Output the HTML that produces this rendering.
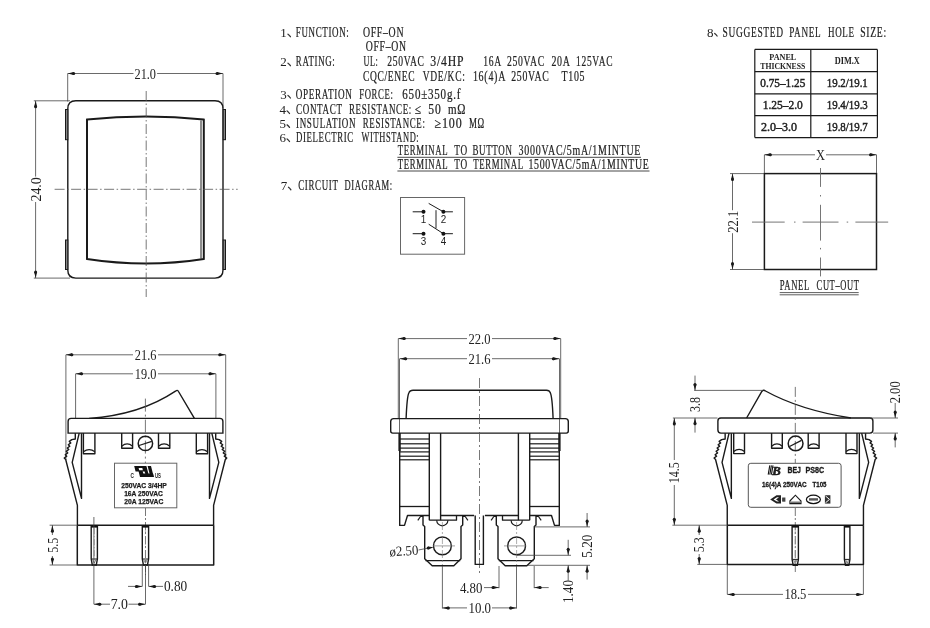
<!DOCTYPE html><html><head><meta charset="utf-8"><style>html,body{margin:0;padding:0;background:#fff;}svg{display:block;will-change:transform}</style></head><body>
<svg width="930" height="628" viewBox="0 0 930 628">
<rect width="930" height="628" fill="#fff"/>
<line x1="67.70" y1="73.50" x2="67.70" y2="101.50" stroke="#444" stroke-width="0.8" />
<line x1="223.00" y1="73.50" x2="223.00" y2="108.00" stroke="#444" stroke-width="0.8" />
<line x1="67.70" y1="73.50" x2="133.50" y2="73.50" stroke="#444" stroke-width="0.8" />
<line x1="157.10" y1="73.50" x2="223.00" y2="73.50" stroke="#444" stroke-width="0.8" />
<polygon points="67.70,73.50 73.70,72.00 73.70,75.00" fill="#1a1a1a"/>
<circle cx="73.70" cy="73.50" r="1.50" fill="#1a1a1a"/>
<polygon points="223.00,73.50 217.00,75.00 217.00,72.00" fill="#1a1a1a"/>
<circle cx="217.00" cy="73.50" r="1.50" fill="#1a1a1a"/>
<text x="134.50" y="78.70" font-family="Liberation Serif" font-size="14.5" font-weight="normal" fill="#222" text-anchor="start" textLength="21.50" lengthAdjust="spacingAndGlyphs" >21.0</text>
<line x1="33.80" y1="100.80" x2="70.00" y2="100.80" stroke="#444" stroke-width="0.8" />
<line x1="33.80" y1="278.10" x2="70.00" y2="278.10" stroke="#444" stroke-width="0.8" />
<line x1="35.60" y1="100.80" x2="35.60" y2="176.60" stroke="#444" stroke-width="0.8" />
<line x1="35.60" y1="202.00" x2="35.60" y2="278.10" stroke="#444" stroke-width="0.8" />
<polygon points="35.60,100.80 37.10,106.80 34.10,106.80" fill="#1a1a1a"/>
<circle cx="35.60" cy="106.80" r="1.50" fill="#1a1a1a"/>
<polygon points="35.60,278.10 34.10,272.10 37.10,272.10" fill="#1a1a1a"/>
<circle cx="35.60" cy="272.10" r="1.50" fill="#1a1a1a"/>
<text x="40.60" y="201.50" font-family="Liberation Serif" font-size="14.5" font-weight="normal" fill="#222" text-anchor="start" textLength="24.20" lengthAdjust="spacingAndGlyphs" transform="rotate(-90 40.60 201.50)" >24.0</text>
<path d="M67.8,108.8 Q67.8,100.8 75.8,100.8 L215,100.8 Q223,100.8 223,108.8 L223,270.1 Q223,278.1 215,278.1 L75.8,278.1 Q67.8,278.1 67.8,270.1 Z" fill="none" stroke="#1a1a1a" stroke-width="1.4" />
<rect x="65.50" y="109.50" width="2.30" height="30.20" rx="0" fill="#888" stroke="#1a1a1a" stroke-width="1.0"/>
<rect x="223.20" y="109.50" width="2.30" height="30.20" rx="0" fill="#888" stroke="#1a1a1a" stroke-width="1.0"/>
<rect x="65.50" y="240.00" width="2.30" height="29.50" rx="0" fill="#888" stroke="#1a1a1a" stroke-width="1.0"/>
<rect x="223.20" y="240.00" width="2.30" height="29.50" rx="0" fill="#888" stroke="#1a1a1a" stroke-width="1.0"/>
<path d="M87.0,119.6 Q146,113.4 203.8,119.6 L203.8,259 Q146,268 87.0,259 Z" fill="none" stroke="#1a1a1a" stroke-width="2.0" />
<line x1="201.00" y1="120.50" x2="201.00" y2="258.50" stroke="#1a1a1a" stroke-width="1.0" />
<line x1="146.20" y1="91.00" x2="146.20" y2="297.00" stroke="#555" stroke-width="0.8" stroke-dasharray="10 2.5 1.5 2.5"/>
<line x1="54.60" y1="189.30" x2="237.70" y2="189.30" stroke="#555" stroke-width="0.8" stroke-dasharray="10 2.5 1.5 2.5"/>
<text x="280.30" y="37.20" font-family="Liberation Serif" font-size="13" fill="#222">1</text>
<path d="M288.00,34.20 Q289.40,35.20 290.40,36.70" fill="none" stroke="#333" stroke-width="1.3" stroke-linecap="round"/>
<text x="295.80" y="37.20" font-family="Liberation Serif" font-size="13.8" letter-spacing="1.0" word-spacing="2.5" textLength="53.60" lengthAdjust="spacingAndGlyphs" fill="#222" stroke="#222" stroke-width="0.22">FUNCTION:</text>
<text x="362.90" y="37.20" font-family="Liberation Serif" font-size="13.8" letter-spacing="1.0" word-spacing="2.5" textLength="41.30" lengthAdjust="spacingAndGlyphs" fill="#222" stroke="#222" stroke-width="0.22">OFF–ON</text>
<text x="365.70" y="50.50" font-family="Liberation Serif" font-size="13.8" letter-spacing="1.0" word-spacing="2.5" textLength="41.10" lengthAdjust="spacingAndGlyphs" fill="#222" stroke="#222" stroke-width="0.22">OFF–ON</text>
<text x="280.30" y="66.20" font-family="Liberation Serif" font-size="13" fill="#222">2</text>
<path d="M288.00,63.20 Q289.40,64.20 290.40,65.70" fill="none" stroke="#333" stroke-width="1.3" stroke-linecap="round"/>
<text x="295.80" y="66.20" font-family="Liberation Serif" font-size="13.8" letter-spacing="1.0" word-spacing="2.5" textLength="39.60" lengthAdjust="spacingAndGlyphs" fill="#222" stroke="#222" stroke-width="0.22">RATING:</text>
<text x="363.50" y="66.20" font-family="Liberation Serif" font-size="13.8" letter-spacing="1.0" word-spacing="2.5" textLength="15.00" lengthAdjust="spacingAndGlyphs" fill="#222" stroke="#222" stroke-width="0.22">UL:</text>
<text x="387.20" y="66.20" font-family="Liberation Serif" font-size="13.8" letter-spacing="1.0" word-spacing="2.5" textLength="37.50" lengthAdjust="spacingAndGlyphs" fill="#222" stroke="#222" stroke-width="0.22">250VAC</text>
<text x="430.20" y="66.20" font-family="Liberation Serif" font-size="13.8" letter-spacing="1.0" word-spacing="2.5" textLength="34.20" lengthAdjust="spacingAndGlyphs" fill="#222" stroke="#222" stroke-width="0.22">3/4HP</text>
<text x="483.20" y="66.20" font-family="Liberation Serif" font-size="13.8" letter-spacing="1.0" word-spacing="2.5" textLength="18.60" lengthAdjust="spacingAndGlyphs" fill="#222" stroke="#222" stroke-width="0.22">16A</text>
<text x="506.90" y="66.20" font-family="Liberation Serif" font-size="13.8" letter-spacing="1.0" word-spacing="2.5" textLength="37.90" lengthAdjust="spacingAndGlyphs" fill="#222" stroke="#222" stroke-width="0.22">250VAC</text>
<text x="551.40" y="66.20" font-family="Liberation Serif" font-size="13.8" letter-spacing="1.0" word-spacing="2.5" textLength="19.20" lengthAdjust="spacingAndGlyphs" fill="#222" stroke="#222" stroke-width="0.22">20A</text>
<text x="576.10" y="66.20" font-family="Liberation Serif" font-size="13.8" letter-spacing="1.0" word-spacing="2.5" textLength="37.10" lengthAdjust="spacingAndGlyphs" fill="#222" stroke="#222" stroke-width="0.22">125VAC</text>
<text x="362.90" y="81.30" font-family="Liberation Serif" font-size="13.8" letter-spacing="1.0" word-spacing="2.5" textLength="52.50" lengthAdjust="spacingAndGlyphs" fill="#222" stroke="#222" stroke-width="0.22">CQC/ENEC</text>
<text x="422.70" y="81.30" font-family="Liberation Serif" font-size="13.8" letter-spacing="1.0" word-spacing="2.5" textLength="42.80" lengthAdjust="spacingAndGlyphs" fill="#222" stroke="#222" stroke-width="0.22">VDE/KC:</text>
<text x="472.90" y="81.30" font-family="Liberation Serif" font-size="13.8" letter-spacing="1.0" word-spacing="2.5" textLength="33.20" lengthAdjust="spacingAndGlyphs" fill="#222" stroke="#222" stroke-width="0.22">16(4)A</text>
<text x="511.20" y="81.30" font-family="Liberation Serif" font-size="13.8" letter-spacing="1.0" word-spacing="2.5" textLength="38.30" lengthAdjust="spacingAndGlyphs" fill="#222" stroke="#222" stroke-width="0.22">250VAC</text>
<text x="561.50" y="81.30" font-family="Liberation Serif" font-size="13.8" letter-spacing="1.0" word-spacing="2.5" textLength="23.70" lengthAdjust="spacingAndGlyphs" fill="#222" stroke="#222" stroke-width="0.22">T105</text>
<text x="280.30" y="98.50" font-family="Liberation Serif" font-size="13" fill="#222">3</text>
<path d="M288.00,95.50 Q289.40,96.50 290.40,98.00" fill="none" stroke="#333" stroke-width="1.3" stroke-linecap="round"/>
<text x="295.80" y="98.50" font-family="Liberation Serif" font-size="13.8" letter-spacing="1.0" word-spacing="2.5" textLength="56.80" lengthAdjust="spacingAndGlyphs" fill="#222" stroke="#222" stroke-width="0.22">OPERATION</text>
<text x="359.20" y="98.50" font-family="Liberation Serif" font-size="13.8" letter-spacing="1.0" word-spacing="2.5" textLength="34.30" lengthAdjust="spacingAndGlyphs" fill="#222" stroke="#222" stroke-width="0.22">FORCE:</text>
<text x="402.30" y="98.50" font-family="Liberation Serif" font-size="13.8" letter-spacing="1.0" word-spacing="2.5" textLength="58.90" lengthAdjust="spacingAndGlyphs" fill="#222" stroke="#222" stroke-width="0.22">650±350g.f</text>
<text x="279.40" y="114.00" font-family="Liberation Serif" font-size="13" fill="#222">4</text>
<path d="M287.10,111.00 Q288.50,112.00 289.50,113.50" fill="none" stroke="#333" stroke-width="1.3" stroke-linecap="round"/>
<text x="296.00" y="114.00" font-family="Liberation Serif" font-size="13.8" letter-spacing="1.0" word-spacing="2.5" textLength="46.60" lengthAdjust="spacingAndGlyphs" fill="#222" stroke="#222" stroke-width="0.22">CONTACT</text>
<text x="349.00" y="114.00" font-family="Liberation Serif" font-size="13.8" letter-spacing="1.0" word-spacing="2.5" textLength="62.90" lengthAdjust="spacingAndGlyphs" fill="#222" stroke="#222" stroke-width="0.22">RESISTANCE:</text>
<text x="414.70" y="114.00" font-family="Liberation Serif" font-size="13.8" letter-spacing="1.0" word-spacing="2.5" textLength="7.10" lengthAdjust="spacingAndGlyphs" fill="#222" stroke="#222" stroke-width="0.22">≤</text>
<text x="428.30" y="114.00" font-family="Liberation Serif" font-size="13.8" letter-spacing="1.0" word-spacing="2.5" textLength="13.30" lengthAdjust="spacingAndGlyphs" fill="#222" stroke="#222" stroke-width="0.22">50</text>
<text x="448.00" y="114.00" font-family="Liberation Serif" font-size="13.8" letter-spacing="1.0" word-spacing="2.5" textLength="18.30" lengthAdjust="spacingAndGlyphs" fill="#222" stroke="#222" stroke-width="0.22">mΩ</text>
<text x="279.40" y="127.90" font-family="Liberation Serif" font-size="13" fill="#222">5</text>
<path d="M287.10,124.90 Q288.50,125.90 289.50,127.40" fill="none" stroke="#333" stroke-width="1.3" stroke-linecap="round"/>
<text x="296.00" y="127.90" font-family="Liberation Serif" font-size="13.8" letter-spacing="1.0" word-spacing="2.5" textLength="60.20" lengthAdjust="spacingAndGlyphs" fill="#222" stroke="#222" stroke-width="0.22">INSULATION</text>
<text x="362.80" y="127.90" font-family="Liberation Serif" font-size="13.8" letter-spacing="1.0" word-spacing="2.5" textLength="62.70" lengthAdjust="spacingAndGlyphs" fill="#222" stroke="#222" stroke-width="0.22">RESISTANCE:</text>
<text x="434.50" y="127.90" font-family="Liberation Serif" font-size="13.8" letter-spacing="1.0" word-spacing="2.5" textLength="28.10" lengthAdjust="spacingAndGlyphs" fill="#222" stroke="#222" stroke-width="0.22">≥100</text>
<text x="469.00" y="127.90" font-family="Liberation Serif" font-size="13.8" letter-spacing="1.0" word-spacing="2.5" textLength="15.90" lengthAdjust="spacingAndGlyphs" fill="#222" stroke="#222" stroke-width="0.22">MΩ</text>
<text x="279.40" y="142.00" font-family="Liberation Serif" font-size="13" fill="#222">6</text>
<path d="M287.10,139.00 Q288.50,140.00 289.50,141.50" fill="none" stroke="#333" stroke-width="1.3" stroke-linecap="round"/>
<text x="296.00" y="142.00" font-family="Liberation Serif" font-size="13.8" letter-spacing="1.0" word-spacing="2.5" textLength="57.80" lengthAdjust="spacingAndGlyphs" fill="#222" stroke="#222" stroke-width="0.22">DIELECTRIC</text>
<text x="361.50" y="142.00" font-family="Liberation Serif" font-size="13.8" letter-spacing="1.0" word-spacing="2.5" textLength="57.80" lengthAdjust="spacingAndGlyphs" fill="#222" stroke="#222" stroke-width="0.22">WITHSTAND:</text>
<text x="397.80" y="155.10" font-family="Liberation Serif" font-size="13.8" letter-spacing="1.0" word-spacing="2.5" textLength="50.40" lengthAdjust="spacingAndGlyphs" fill="#222" stroke="#222" stroke-width="0.22">TERMINAL</text>
<text x="454.30" y="155.10" font-family="Liberation Serif" font-size="13.8" letter-spacing="1.0" word-spacing="2.5" textLength="13.50" lengthAdjust="spacingAndGlyphs" fill="#222" stroke="#222" stroke-width="0.22">TO</text>
<text x="472.50" y="155.10" font-family="Liberation Serif" font-size="13.8" letter-spacing="1.0" word-spacing="2.5" textLength="40.00" lengthAdjust="spacingAndGlyphs" fill="#222" stroke="#222" stroke-width="0.22">BUTTON</text>
<text x="518.60" y="155.10" font-family="Liberation Serif" font-size="13.8" letter-spacing="1.0" word-spacing="2.5" textLength="122.50" lengthAdjust="spacingAndGlyphs" fill="#222" stroke="#222" stroke-width="0.22">3000VAC/5mA/1MINTUE</text>
<line x1="397.40" y1="157.30" x2="641.00" y2="157.30" stroke="#333" stroke-width="0.9" />
<text x="397.80" y="168.70" font-family="Liberation Serif" font-size="13.8" letter-spacing="1.0" word-spacing="2.5" textLength="50.40" lengthAdjust="spacingAndGlyphs" fill="#222" stroke="#222" stroke-width="0.22">TERMINAL</text>
<text x="454.30" y="168.70" font-family="Liberation Serif" font-size="13.8" letter-spacing="1.0" word-spacing="2.5" textLength="13.50" lengthAdjust="spacingAndGlyphs" fill="#222" stroke="#222" stroke-width="0.22">TO</text>
<text x="473.30" y="168.70" font-family="Liberation Serif" font-size="13.8" letter-spacing="1.0" word-spacing="2.5" textLength="50.40" lengthAdjust="spacingAndGlyphs" fill="#222" stroke="#222" stroke-width="0.22">TERMINAL</text>
<text x="528.40" y="168.70" font-family="Liberation Serif" font-size="13.8" letter-spacing="1.0" word-spacing="2.5" textLength="121.10" lengthAdjust="spacingAndGlyphs" fill="#222" stroke="#222" stroke-width="0.22">1500VAC/5mA/1MINTUE</text>
<line x1="397.40" y1="171.00" x2="649.50" y2="171.00" stroke="#333" stroke-width="0.9" />
<text x="280.80" y="190.30" font-family="Liberation Serif" font-size="13" fill="#222">7</text>
<path d="M288.50,187.30 Q289.90,188.30 290.90,189.80" fill="none" stroke="#333" stroke-width="1.3" stroke-linecap="round"/>
<text x="298.20" y="190.30" font-family="Liberation Serif" font-size="13.8" letter-spacing="1.0" word-spacing="2.5" textLength="40.40" lengthAdjust="spacingAndGlyphs" fill="#222" stroke="#222" stroke-width="0.22">CIRCUIT</text>
<text x="344.50" y="190.30" font-family="Liberation Serif" font-size="13.8" letter-spacing="1.0" word-spacing="2.5" textLength="48.30" lengthAdjust="spacingAndGlyphs" fill="#222" stroke="#222" stroke-width="0.22">DIAGRAM:</text>
<text x="707.00" y="36.50" font-family="Liberation Serif" font-size="13" fill="#222">8</text>
<path d="M714.70,33.50 Q716.10,34.50 717.10,36.00" fill="none" stroke="#333" stroke-width="1.3" stroke-linecap="round"/>
<text x="722.60" y="36.50" font-family="Liberation Serif" font-size="13.8" letter-spacing="1.0" word-spacing="2.5" textLength="61.10" lengthAdjust="spacingAndGlyphs" fill="#222" stroke="#222" stroke-width="0.22">SUGGESTED</text>
<text x="789.20" y="36.50" font-family="Liberation Serif" font-size="13.8" letter-spacing="1.0" word-spacing="2.5" textLength="32.10" lengthAdjust="spacingAndGlyphs" fill="#222" stroke="#222" stroke-width="0.22">PANEL</text>
<text x="828.00" y="36.50" font-family="Liberation Serif" font-size="13.8" letter-spacing="1.0" word-spacing="2.5" textLength="26.70" lengthAdjust="spacingAndGlyphs" fill="#222" stroke="#222" stroke-width="0.22">HOLE</text>
<text x="860.20" y="36.50" font-family="Liberation Serif" font-size="13.8" letter-spacing="1.0" word-spacing="2.5" textLength="26.70" lengthAdjust="spacingAndGlyphs" fill="#222" stroke="#222" stroke-width="0.22">SIZE:</text>
<line x1="754.80" y1="49.40" x2="754.80" y2="137.60" stroke="#1a1a1a" stroke-width="1.2" />
<line x1="810.80" y1="49.40" x2="810.80" y2="137.60" stroke="#1a1a1a" stroke-width="1.2" />
<line x1="877.40" y1="49.40" x2="877.40" y2="137.60" stroke="#1a1a1a" stroke-width="1.2" />
<line x1="754.80" y1="49.40" x2="877.40" y2="49.40" stroke="#1a1a1a" stroke-width="1.2" />
<line x1="754.80" y1="71.60" x2="877.40" y2="71.60" stroke="#1a1a1a" stroke-width="1.2" />
<line x1="754.80" y1="93.90" x2="877.40" y2="93.90" stroke="#1a1a1a" stroke-width="1.2" />
<line x1="754.80" y1="115.60" x2="877.40" y2="115.60" stroke="#1a1a1a" stroke-width="1.2" />
<line x1="754.80" y1="137.60" x2="877.40" y2="137.60" stroke="#1a1a1a" stroke-width="1.2" />
<text x="782.80" y="59.50" font-family="Liberation Serif" font-size="9" font-weight="bold" fill="#222" text-anchor="middle" textLength="27.00" lengthAdjust="spacingAndGlyphs" >PANEL</text>
<text x="782.80" y="69.00" font-family="Liberation Serif" font-size="9" font-weight="bold" fill="#222" text-anchor="middle" textLength="45.00" lengthAdjust="spacingAndGlyphs" >THICKNESS</text>
<text x="847.30" y="64.30" font-family="Liberation Serif" font-size="10" font-weight="bold" fill="#222" text-anchor="middle" textLength="25.00" lengthAdjust="spacingAndGlyphs" >DIM.X</text>
<text x="782.80" y="87.10" font-family="Liberation Serif" font-size="12" font-weight="normal" fill="#222" text-anchor="middle" textLength="45.00" lengthAdjust="spacingAndGlyphs" stroke="#222" stroke-width="0.45">0.75–1.25</text>
<text x="847.30" y="87.10" font-family="Liberation Serif" font-size="12" font-weight="normal" fill="#222" text-anchor="middle" textLength="41.00" lengthAdjust="spacingAndGlyphs" stroke="#222" stroke-width="0.45">19.2/19.1</text>
<text x="782.80" y="109.40" font-family="Liberation Serif" font-size="12" font-weight="normal" fill="#222" text-anchor="middle" textLength="40.00" lengthAdjust="spacingAndGlyphs" stroke="#222" stroke-width="0.45">1.25–2.0</text>
<text x="847.30" y="109.40" font-family="Liberation Serif" font-size="12" font-weight="normal" fill="#222" text-anchor="middle" textLength="41.00" lengthAdjust="spacingAndGlyphs" stroke="#222" stroke-width="0.45">19.4/19.3</text>
<text x="779.00" y="131.10" font-family="Liberation Serif" font-size="12" font-weight="normal" fill="#222" text-anchor="middle" textLength="36.00" lengthAdjust="spacingAndGlyphs" stroke="#222" stroke-width="0.45">2.0–3.0</text>
<text x="847.30" y="131.10" font-family="Liberation Serif" font-size="12" font-weight="normal" fill="#222" text-anchor="middle" textLength="41.00" lengthAdjust="spacingAndGlyphs" stroke="#222" stroke-width="0.45">19.8/19.7</text>
<rect x="764.40" y="173.60" width="112.10" height="95.90" rx="0" fill="none" stroke="#1a1a1a" stroke-width="1.5"/>
<line x1="764.40" y1="154.80" x2="764.40" y2="173.00" stroke="#444" stroke-width="0.8" />
<line x1="876.50" y1="154.80" x2="876.50" y2="173.00" stroke="#444" stroke-width="0.8" />
<line x1="764.40" y1="154.80" x2="815.00" y2="154.80" stroke="#444" stroke-width="0.8" />
<line x1="826.00" y1="154.80" x2="876.50" y2="154.80" stroke="#444" stroke-width="0.8" />
<polygon points="764.40,154.80 770.40,153.30 770.40,156.30" fill="#1a1a1a"/>
<circle cx="770.40" cy="154.80" r="1.50" fill="#1a1a1a"/>
<polygon points="876.50,154.80 870.50,156.30 870.50,153.30" fill="#1a1a1a"/>
<circle cx="870.50" cy="154.80" r="1.50" fill="#1a1a1a"/>
<text x="820.50" y="160.00" font-family="Liberation Serif" font-size="14" font-weight="normal" fill="#222" text-anchor="middle" textLength="9.00" lengthAdjust="spacingAndGlyphs" >X</text>
<line x1="730.00" y1="173.60" x2="764.00" y2="173.60" stroke="#444" stroke-width="0.8" />
<line x1="730.00" y1="269.50" x2="764.00" y2="269.50" stroke="#444" stroke-width="0.8" />
<line x1="732.50" y1="173.60" x2="732.50" y2="210.20" stroke="#444" stroke-width="0.8" />
<line x1="732.50" y1="233.20" x2="732.50" y2="269.50" stroke="#444" stroke-width="0.8" />
<polygon points="732.50,173.60 734.00,179.60 731.00,179.60" fill="#1a1a1a"/>
<circle cx="732.50" cy="179.60" r="1.50" fill="#1a1a1a"/>
<polygon points="732.50,269.50 731.00,263.50 734.00,263.50" fill="#1a1a1a"/>
<circle cx="732.50" cy="263.50" r="1.50" fill="#1a1a1a"/>
<text x="737.60" y="221.70" font-family="Liberation Serif" font-size="14" font-weight="normal" fill="#222" text-anchor="middle" textLength="22.00" lengthAdjust="spacingAndGlyphs" transform="rotate(-90 737.60 221.70)" >22.1</text>
<line x1="752.00" y1="222.10" x2="784.70" y2="222.10" stroke="#666" stroke-width="0.9" />
<line x1="794.00" y1="222.10" x2="795.50" y2="222.10" stroke="#666" stroke-width="0.9" />
<line x1="802.60" y1="222.10" x2="838.50" y2="222.10" stroke="#666" stroke-width="0.9" />
<line x1="846.70" y1="222.10" x2="848.20" y2="222.10" stroke="#666" stroke-width="0.9" />
<line x1="855.40" y1="222.10" x2="888.20" y2="222.10" stroke="#666" stroke-width="0.9" />
<line x1="820.50" y1="168.00" x2="820.50" y2="186.90" stroke="#666" stroke-width="0.9" />
<line x1="820.50" y1="195.00" x2="820.50" y2="196.50" stroke="#666" stroke-width="0.9" />
<line x1="820.50" y1="204.80" x2="820.50" y2="240.60" stroke="#666" stroke-width="0.9" />
<line x1="820.50" y1="247.90" x2="820.50" y2="249.40" stroke="#666" stroke-width="0.9" />
<line x1="820.50" y1="257.50" x2="820.50" y2="276.40" stroke="#666" stroke-width="0.9" />
<text x="779.70" y="290.40" font-family="Liberation Serif" font-size="13.8" letter-spacing="1.0" word-spacing="2.5" textLength="30.20" lengthAdjust="spacingAndGlyphs" fill="#222" stroke="#222" stroke-width="0.22">PANEL</text>
<text x="816.60" y="290.40" font-family="Liberation Serif" font-size="13.8" letter-spacing="1.0" word-spacing="2.5" textLength="43.00" lengthAdjust="spacingAndGlyphs" fill="#222" stroke="#222" stroke-width="0.22">CUT–OUT</text>
<line x1="779.70" y1="292.60" x2="858.70" y2="292.60" stroke="#333" stroke-width="0.8" />
<line x1="779.70" y1="294.80" x2="858.70" y2="294.80" stroke="#333" stroke-width="0.8" />
<rect x="400.50" y="197.50" width="64.10" height="56.70" rx="0" fill="none" stroke="#666" stroke-width="1.0"/>
<circle cx="423.5" cy="211.8" r="2" fill="#111"/>
<circle cx="443.4" cy="211.8" r="2" fill="#111"/>
<circle cx="423.5" cy="233.7" r="2" fill="#111"/>
<circle cx="443.4" cy="233.7" r="2" fill="#111"/>
<line x1="412.70" y1="211.80" x2="423.50" y2="211.80" stroke="#1a1a1a" stroke-width="1" />
<line x1="443.40" y1="211.80" x2="452.90" y2="211.80" stroke="#1a1a1a" stroke-width="1" />
<line x1="412.70" y1="233.70" x2="423.50" y2="233.70" stroke="#1a1a1a" stroke-width="1" />
<line x1="443.40" y1="233.70" x2="452.90" y2="233.70" stroke="#1a1a1a" stroke-width="1" />
<line x1="428.70" y1="203.40" x2="443.40" y2="211.80" stroke="#1a1a1a" stroke-width="1" />
<line x1="428.70" y1="224.20" x2="443.40" y2="233.70" stroke="#1a1a1a" stroke-width="1" />
<line x1="436.00" y1="210.20" x2="436.00" y2="228.30" stroke="#222" stroke-width="1.0" />
<text x="423.50" y="223.00" font-family="Liberation Sans" font-size="11" font-weight="normal" fill="#222" text-anchor="middle" textLength="5.50" lengthAdjust="spacingAndGlyphs" >1</text>
<text x="443.40" y="223.00" font-family="Liberation Sans" font-size="11" font-weight="normal" fill="#222" text-anchor="middle" textLength="5.50" lengthAdjust="spacingAndGlyphs" >2</text>
<text x="423.50" y="245.20" font-family="Liberation Sans" font-size="11" font-weight="normal" fill="#222" text-anchor="middle" textLength="5.50" lengthAdjust="spacingAndGlyphs" >3</text>
<text x="443.40" y="245.20" font-family="Liberation Sans" font-size="11" font-weight="normal" fill="#222" text-anchor="middle" textLength="5.50" lengthAdjust="spacingAndGlyphs" >4</text>
<line x1="65.90" y1="354.80" x2="65.90" y2="460.00" stroke="#444" stroke-width="0.8" />
<line x1="225.70" y1="354.80" x2="225.70" y2="460.00" stroke="#444" stroke-width="0.8" />
<line x1="65.90" y1="354.80" x2="133.00" y2="354.80" stroke="#444" stroke-width="0.8" />
<line x1="158.00" y1="354.80" x2="225.70" y2="354.80" stroke="#444" stroke-width="0.8" />
<polygon points="65.90,354.80 71.90,353.30 71.90,356.30" fill="#1a1a1a"/>
<circle cx="71.90" cy="354.80" r="1.50" fill="#1a1a1a"/>
<polygon points="225.70,354.80 219.70,356.30 219.70,353.30" fill="#1a1a1a"/>
<circle cx="219.70" cy="354.80" r="1.50" fill="#1a1a1a"/>
<text x="145.60" y="359.80" font-family="Liberation Serif" font-size="14.5" font-weight="normal" fill="#222" text-anchor="middle" textLength="21.50" lengthAdjust="spacingAndGlyphs" >21.6</text>
<line x1="75.60" y1="373.80" x2="75.60" y2="418.40" stroke="#444" stroke-width="0.8" />
<line x1="215.90" y1="373.80" x2="215.90" y2="418.40" stroke="#444" stroke-width="0.8" />
<line x1="75.60" y1="373.80" x2="133.00" y2="373.80" stroke="#444" stroke-width="0.8" />
<line x1="158.00" y1="373.80" x2="215.90" y2="373.80" stroke="#444" stroke-width="0.8" />
<polygon points="75.60,373.80 81.60,372.30 81.60,375.30" fill="#1a1a1a"/>
<circle cx="81.60" cy="373.80" r="1.50" fill="#1a1a1a"/>
<polygon points="215.90,373.80 209.90,375.30 209.90,372.30" fill="#1a1a1a"/>
<circle cx="209.90" cy="373.80" r="1.50" fill="#1a1a1a"/>
<text x="145.60" y="378.80" font-family="Liberation Serif" font-size="14.5" font-weight="normal" fill="#222" text-anchor="middle" textLength="21.50" lengthAdjust="spacingAndGlyphs" >19.0</text>
<path d="M89.1,418.4 Q140,415 175.5,391.2 Q177.5,389.5 178.5,391.5 L194.4,418.4" fill="none" stroke="#1a1a1a" stroke-width="1.4" />
<path d="M68.1,421.4 Q68.1,418.4 71.1,418.4 L219.9,418.4 Q222.9,418.4 222.9,421.4 L222.9,433.1 L68.1,433.1 Z" fill="none" stroke="#1a1a1a" stroke-width="1.4" />
<line x1="145.40" y1="398.60" x2="145.40" y2="463.00" stroke="#555" stroke-width="0.8" stroke-dasharray="13 3 2 3"/>
<polyline points="75.30,433.20 75.30,439.00 71.80,439.60 69.34,441.42 70.78,442.92 68.32,444.74 69.77,446.23 67.31,448.06 68.75,449.55 66.29,451.37 67.73,452.87 65.27,454.69 66.72,456.18 64.26,458.01 65.70,459.50 77.40,505.40 77.40,525.20" fill="none" stroke="#1a1a1a" stroke-width="1.4" stroke-linejoin="round"/>
<polyline points="79.20,433.20 72.20,462.30 81.50,498.40 81.50,433.20" fill="none" stroke="#1a1a1a" stroke-width="1.4" stroke-linejoin="round"/>
<polyline points="215.70,433.20 215.70,439.00 219.20,439.60 221.66,441.42 220.22,442.92 222.68,444.74 221.23,446.23 223.69,448.06 222.25,449.55 224.71,451.37 223.27,452.87 225.73,454.69 224.28,456.18 226.74,458.01 225.30,459.50 213.60,505.40 213.60,525.20" fill="none" stroke="#1a1a1a" stroke-width="1.4" stroke-linejoin="round"/>
<polyline points="211.80,433.20 218.80,462.30 209.50,498.40 209.50,433.20" fill="none" stroke="#1a1a1a" stroke-width="1.4" stroke-linejoin="round"/>
<polyline points="83.40,433.10 83.40,453.80 94.90,453.80 94.90,433.10" fill="none" stroke="#1a1a1a" stroke-width="1.4" stroke-linejoin="round"/>
<path d="M83.40,451.80 Q89.15,447.30 94.90,451.80" fill="none" stroke="#1a1a1a" stroke-width="1.3" />
<polyline points="121.70,433.10 121.70,448.20 132.60,448.20 132.60,433.10" fill="none" stroke="#1a1a1a" stroke-width="1.4" stroke-linejoin="round"/>
<path d="M121.70,446.20 Q127.15,441.70 132.60,446.20" fill="none" stroke="#1a1a1a" stroke-width="1.3" />
<polyline points="158.50,433.10 158.50,448.20 169.80,448.20 169.80,433.10" fill="none" stroke="#1a1a1a" stroke-width="1.4" stroke-linejoin="round"/>
<path d="M158.50,446.20 Q164.15,441.70 169.80,446.20" fill="none" stroke="#1a1a1a" stroke-width="1.3" />
<polyline points="196.30,433.10 196.30,453.80 207.60,453.80 207.60,433.10" fill="none" stroke="#1a1a1a" stroke-width="1.4" stroke-linejoin="round"/>
<path d="M196.30,451.80 Q201.95,447.30 207.60,451.80" fill="none" stroke="#1a1a1a" stroke-width="1.3" />
<circle cx="145.4" cy="443.4" r="7.2" fill="none" stroke="#1a1a1a" stroke-width="1.5"/>
<line x1="139.00" y1="445.50" x2="151.80" y2="441.40" stroke="#1a1a1a" stroke-width="1.3" />
<rect x="114.50" y="463.20" width="62.30" height="44.60" rx="0" fill="none" stroke="#666" stroke-width="1.0"/>
<polygon points="134.20,466.10 144.20,466.10 145.60,471.60 135.60,471.60" fill="#111" stroke="#1a1a1a" stroke-width="0" stroke-linejoin="round"/>
<polygon points="137.30,466.10 141.40,466.10 144.10,476.90 140.00,476.90" fill="#111" stroke="#1a1a1a" stroke-width="0" stroke-linejoin="round"/>
<polygon points="147.60,466.10 151.00,466.10 153.80,476.90 150.40,476.90" fill="#111" stroke="#1a1a1a" stroke-width="0" stroke-linejoin="round"/>
<polygon points="141.00,473.60 153.00,473.60 153.80,476.90 141.80,476.90" fill="#111" stroke="#1a1a1a" stroke-width="0" stroke-linejoin="round"/>
<polygon points="143.20,466.10 146.40,466.10 148.50,474.00 145.30,474.00" fill="#111" stroke="#1a1a1a" stroke-width="0" stroke-linejoin="round"/>
<polygon points="138.60,467.90 142.30,467.90 142.90,470.20 139.20,470.20" fill="#fff" stroke="#1a1a1a" stroke-width="0" stroke-linejoin="round"/>
<text x="132.30" y="477.50" font-family="Liberation Sans" font-size="7" font-weight="bold" fill="#222" text-anchor="middle" textLength="3.40" lengthAdjust="spacingAndGlyphs" >C</text>
<text x="157.90" y="477.50" font-family="Liberation Sans" font-size="6.5" font-weight="bold" fill="#222" text-anchor="middle" textLength="6.00" lengthAdjust="spacingAndGlyphs" >US</text>
<text x="144.00" y="487.90" font-family="Liberation Sans" font-size="7.6" font-weight="bold" fill="#222" text-anchor="middle" textLength="45.50" lengthAdjust="spacingAndGlyphs" stroke="#111" stroke-width="0.25">250VAC 3/4HP</text>
<text x="143.50" y="496.10" font-family="Liberation Sans" font-size="7.6" font-weight="bold" fill="#222" text-anchor="middle" textLength="38.70" lengthAdjust="spacingAndGlyphs" stroke="#111" stroke-width="0.25">16A 250VAC</text>
<text x="143.80" y="504.40" font-family="Liberation Sans" font-size="7.6" font-weight="bold" fill="#222" text-anchor="middle" textLength="39.20" lengthAdjust="spacingAndGlyphs" stroke="#111" stroke-width="0.25">20A 125VAC</text>
<line x1="145.50" y1="508.00" x2="145.50" y2="575.00" stroke="#555" stroke-width="0.8" stroke-dasharray="8 2 2 2"/>
<line x1="77.30" y1="525.20" x2="213.70" y2="525.20" stroke="#1a1a1a" stroke-width="1.5" />
<polyline points="77.30,525.20 77.30,565.00 213.70,565.00 213.70,525.20" fill="none" stroke="#1a1a1a" stroke-width="1.5" stroke-linejoin="round"/>
<path d="M91.20,525.20 L91.20,559.00 L92.30,565.00 L96.30,565.00 L97.40,559.00 L97.40,525.20" fill="none" stroke="#1a1a1a" stroke-width="1.4" />
<rect x="91.20" y="525.20" width="6.20" height="2.40" rx="0" fill="#111" stroke="#1a1a1a" stroke-width="0"/>
<line x1="91.50" y1="559.00" x2="97.10" y2="559.00" stroke="#1a1a1a" stroke-width="1.0" />
<polyline points="92.60,559.40 94.30,563.20 96.00,559.40" fill="none" stroke="#555" stroke-width="0.7" stroke-linejoin="round"/>
<line x1="94.30" y1="528.20" x2="94.30" y2="558.00" stroke="#888" stroke-width="0.6" stroke-dasharray="6 2 1 2"/>
<path d="M142.30,525.20 L142.30,559.00 L143.40,565.00 L147.50,565.00 L148.60,559.00 L148.60,525.20" fill="none" stroke="#1a1a1a" stroke-width="1.4" />
<rect x="142.30" y="525.20" width="6.30" height="2.40" rx="0" fill="#111" stroke="#1a1a1a" stroke-width="0"/>
<line x1="142.60" y1="559.00" x2="148.30" y2="559.00" stroke="#1a1a1a" stroke-width="1.0" />
<polyline points="143.70,559.40 145.45,563.20 147.20,559.40" fill="none" stroke="#555" stroke-width="0.7" stroke-linejoin="round"/>
<line x1="145.45" y1="528.20" x2="145.45" y2="558.00" stroke="#888" stroke-width="0.6" stroke-dasharray="6 2 1 2"/>
<line x1="49.60" y1="525.20" x2="77.00" y2="525.20" stroke="#444" stroke-width="0.8" />
<line x1="49.60" y1="565.00" x2="77.00" y2="565.00" stroke="#444" stroke-width="0.8" />
<line x1="52.40" y1="525.20" x2="52.40" y2="535.00" stroke="#444" stroke-width="0.8" />
<line x1="52.40" y1="556.00" x2="52.40" y2="565.00" stroke="#444" stroke-width="0.8" />
<polygon points="52.40,525.20 53.90,531.20 50.90,531.20" fill="#1a1a1a"/>
<circle cx="52.40" cy="531.20" r="1.50" fill="#1a1a1a"/>
<polygon points="52.40,565.00 50.90,559.00 53.90,559.00" fill="#1a1a1a"/>
<circle cx="52.40" cy="559.00" r="1.50" fill="#1a1a1a"/>
<text x="57.60" y="545.30" font-family="Liberation Serif" font-size="14" font-weight="normal" fill="#222" text-anchor="middle" textLength="15.00" lengthAdjust="spacingAndGlyphs" transform="rotate(-90 57.60 545.30)" >5.5</text>
<line x1="93.90" y1="517.00" x2="93.90" y2="604.20" stroke="#444" stroke-width="0.8" />
<line x1="142.30" y1="565.00" x2="142.30" y2="586.40" stroke="#444" stroke-width="0.8" />
<line x1="148.60" y1="565.00" x2="148.60" y2="586.40" stroke="#444" stroke-width="0.8" />
<line x1="145.50" y1="565.00" x2="145.50" y2="604.20" stroke="#444" stroke-width="0.8" />
<line x1="128.00" y1="586.40" x2="142.30" y2="586.40" stroke="#444" stroke-width="0.8" />
<line x1="148.60" y1="586.40" x2="163.00" y2="586.40" stroke="#444" stroke-width="0.8" />
<polygon points="142.30,586.40 136.30,587.90 136.30,584.90" fill="#1a1a1a"/>
<circle cx="136.30" cy="586.40" r="1.50" fill="#1a1a1a"/>
<polygon points="148.60,586.40 154.60,584.90 154.60,587.90" fill="#1a1a1a"/>
<circle cx="154.60" cy="586.40" r="1.50" fill="#1a1a1a"/>
<text x="163.90" y="591.40" font-family="Liberation Serif" font-size="14" font-weight="normal" fill="#222" text-anchor="start" textLength="23.30" lengthAdjust="spacingAndGlyphs" >0.80</text>
<line x1="93.90" y1="604.20" x2="110.00" y2="604.20" stroke="#444" stroke-width="0.8" />
<line x1="128.50" y1="604.20" x2="145.50" y2="604.20" stroke="#444" stroke-width="0.8" />
<polygon points="93.90,604.20 99.90,602.70 99.90,605.70" fill="#1a1a1a"/>
<circle cx="99.90" cy="604.20" r="1.50" fill="#1a1a1a"/>
<polygon points="145.50,604.20 139.50,605.70 139.50,602.70" fill="#1a1a1a"/>
<circle cx="139.50" cy="604.20" r="1.50" fill="#1a1a1a"/>
<text x="119.30" y="609.20" font-family="Liberation Serif" font-size="14" font-weight="normal" fill="#222" text-anchor="middle" textLength="17.30" lengthAdjust="spacingAndGlyphs" >7.0</text>
<line x1="398.30" y1="338.60" x2="398.30" y2="418.60" stroke="#444" stroke-width="0.8" />
<line x1="560.70" y1="338.60" x2="560.70" y2="418.60" stroke="#444" stroke-width="0.8" />
<line x1="398.30" y1="338.60" x2="467.00" y2="338.60" stroke="#444" stroke-width="0.8" />
<line x1="492.00" y1="338.60" x2="560.70" y2="338.60" stroke="#444" stroke-width="0.8" />
<polygon points="398.30,338.60 404.30,337.10 404.30,340.10" fill="#1a1a1a"/>
<circle cx="404.30" cy="338.60" r="1.50" fill="#1a1a1a"/>
<polygon points="560.70,338.60 554.70,340.10 554.70,337.10" fill="#1a1a1a"/>
<circle cx="554.70" cy="338.60" r="1.50" fill="#1a1a1a"/>
<text x="479.50" y="343.60" font-family="Liberation Serif" font-size="14.5" font-weight="normal" fill="#222" text-anchor="middle" textLength="22.00" lengthAdjust="spacingAndGlyphs" >22.0</text>
<line x1="399.50" y1="358.70" x2="399.50" y2="433.10" stroke="#444" stroke-width="0.8" />
<line x1="559.50" y1="358.70" x2="559.50" y2="433.10" stroke="#444" stroke-width="0.8" />
<line x1="399.70" y1="358.70" x2="467.00" y2="358.70" stroke="#444" stroke-width="0.8" />
<line x1="492.00" y1="358.70" x2="559.30" y2="358.70" stroke="#444" stroke-width="0.8" />
<polygon points="399.70,358.70 405.70,357.20 405.70,360.20" fill="#1a1a1a"/>
<circle cx="405.70" cy="358.70" r="1.50" fill="#1a1a1a"/>
<polygon points="559.30,358.70 553.30,360.20 553.30,357.20" fill="#1a1a1a"/>
<circle cx="553.30" cy="358.70" r="1.50" fill="#1a1a1a"/>
<text x="479.50" y="363.70" font-family="Liberation Serif" font-size="14.5" font-weight="normal" fill="#222" text-anchor="middle" textLength="22.00" lengthAdjust="spacingAndGlyphs" >21.6</text>
<path d="M406.1,418.6 Q407,396 409,392.6 Q410,390.2 413,390.2 L546.5,390.2 Q549.5,390.2 550.2,392.6 Q552.2,396 553.1,418.6" fill="none" stroke="#1a1a1a" stroke-width="1.4" />
<path d="M390.7,421.6 Q390.7,418.6 393.7,418.6 L565.3,418.6 Q568.3,418.6 568.3,421.6 L568.3,431.1 Q568.3,433.1 566.3,433.1 L392.7,433.1 Q390.7,433.1 390.7,431.1 Z" fill="none" stroke="#1a1a1a" stroke-width="1.4" />
<line x1="479.50" y1="378.00" x2="479.50" y2="576.00" stroke="#555" stroke-width="0.8" stroke-dasharray="10 3 2 3"/>
<polyline points="399.70,433.10 399.70,525.40 404.50,525.40 407.50,515.50 429.30,515.50" fill="none" stroke="#1a1a1a" stroke-width="1.4" stroke-linejoin="round"/>
<line x1="399.70" y1="506.50" x2="429.30" y2="506.50" stroke="#1a1a1a" stroke-width="1.3" />
<line x1="399.00" y1="439.00" x2="429.30" y2="439.00" stroke="#1a1a1a" stroke-width="1.2" />
<line x1="399.00" y1="443.80" x2="429.30" y2="443.80" stroke="#1a1a1a" stroke-width="1.2" />
<line x1="399.00" y1="448.10" x2="429.30" y2="448.10" stroke="#1a1a1a" stroke-width="1.2" />
<line x1="399.00" y1="451.90" x2="429.30" y2="451.90" stroke="#1a1a1a" stroke-width="1.2" />
<line x1="399.00" y1="456.20" x2="429.30" y2="456.20" stroke="#1a1a1a" stroke-width="1.2" />
<line x1="399.00" y1="459.80" x2="429.30" y2="459.80" stroke="#1a1a1a" stroke-width="1.2" />
<line x1="399.50" y1="433.10" x2="399.50" y2="451.00" stroke="#1a1a1a" stroke-width="2.2" />
<line x1="429.30" y1="433.10" x2="429.30" y2="520.20" stroke="#1a1a1a" stroke-width="1.4" />
<line x1="440.60" y1="433.10" x2="440.60" y2="520.20" stroke="#1a1a1a" stroke-width="1.4" />
<polyline points="429.30,520.20 456.50,520.20 456.50,515.50" fill="none" stroke="#1a1a1a" stroke-width="1.3" stroke-linejoin="round"/>
<line x1="440.60" y1="515.50" x2="474.10" y2="515.50" stroke="#1a1a1a" stroke-width="1.3" />
<path d="M436.7,520.2 A5.6,5.6 0 0 0 447.9,520.2" fill="none" stroke="#1a1a1a" stroke-width="1.2" />
<polyline points="423.00,515.50 423.00,525.00 424.70,526.50 424.70,558.70 432.20,565.70 453.80,565.70 461.00,558.70 461.00,526.50 462.70,525.00 462.70,515.50" fill="none" stroke="#1a1a1a" stroke-width="1.4" stroke-linejoin="round"/>
<line x1="425.50" y1="560.60" x2="460.20" y2="560.60" stroke="#1a1a1a" stroke-width="1.1" />
<polyline points="417.80,520.40 420.50,516.50 423.00,516.50" fill="none" stroke="#1a1a1a" stroke-width="1.2" stroke-linejoin="round"/>
<polyline points="467.90,520.40 465.20,516.50 462.70,516.50" fill="none" stroke="#1a1a1a" stroke-width="1.2" stroke-linejoin="round"/>
<circle cx="442.40" cy="545.9" r="8.9" fill="none" stroke="#1a1a1a" stroke-width="1.4"/>
<line x1="433.00" y1="545.90" x2="455.00" y2="545.90" stroke="#777" stroke-width="0.7" />
<line x1="442.40" y1="522.00" x2="442.40" y2="565.00" stroke="#777" stroke-width="0.6" stroke-dasharray="8 2 2 2"/>
<polyline points="559.30,433.10 559.30,525.40 554.50,525.40 551.50,515.50 529.70,515.50" fill="none" stroke="#1a1a1a" stroke-width="1.4" stroke-linejoin="round"/>
<line x1="559.30" y1="506.50" x2="529.70" y2="506.50" stroke="#1a1a1a" stroke-width="1.3" />
<line x1="560.00" y1="439.00" x2="529.70" y2="439.00" stroke="#1a1a1a" stroke-width="1.2" />
<line x1="560.00" y1="443.80" x2="529.70" y2="443.80" stroke="#1a1a1a" stroke-width="1.2" />
<line x1="560.00" y1="448.10" x2="529.70" y2="448.10" stroke="#1a1a1a" stroke-width="1.2" />
<line x1="560.00" y1="451.90" x2="529.70" y2="451.90" stroke="#1a1a1a" stroke-width="1.2" />
<line x1="560.00" y1="456.20" x2="529.70" y2="456.20" stroke="#1a1a1a" stroke-width="1.2" />
<line x1="560.00" y1="459.80" x2="529.70" y2="459.80" stroke="#1a1a1a" stroke-width="1.2" />
<line x1="559.50" y1="433.10" x2="559.50" y2="451.00" stroke="#1a1a1a" stroke-width="2.2" />
<line x1="529.70" y1="433.10" x2="529.70" y2="520.20" stroke="#1a1a1a" stroke-width="1.4" />
<line x1="518.40" y1="433.10" x2="518.40" y2="520.20" stroke="#1a1a1a" stroke-width="1.4" />
<polyline points="529.70,520.20 502.50,520.20 502.50,515.50" fill="none" stroke="#1a1a1a" stroke-width="1.3" stroke-linejoin="round"/>
<line x1="518.40" y1="515.50" x2="484.90" y2="515.50" stroke="#1a1a1a" stroke-width="1.3" />
<path d="M511.10,520.2 A5.6,5.6 0 0 0 522.30,520.2" fill="none" stroke="#1a1a1a" stroke-width="1.2" />
<polyline points="536.00,515.50 536.00,525.00 534.30,526.50 534.30,558.70 526.80,565.70 505.20,565.70 498.00,558.70 498.00,526.50 496.30,525.00 496.30,515.50" fill="none" stroke="#1a1a1a" stroke-width="1.4" stroke-linejoin="round"/>
<line x1="533.50" y1="560.60" x2="498.80" y2="560.60" stroke="#1a1a1a" stroke-width="1.1" />
<polyline points="541.20,520.40 538.50,516.50 536.00,516.50" fill="none" stroke="#1a1a1a" stroke-width="1.2" stroke-linejoin="round"/>
<polyline points="491.10,520.40 493.80,516.50 496.30,516.50" fill="none" stroke="#1a1a1a" stroke-width="1.2" stroke-linejoin="round"/>
<circle cx="516.60" cy="545.9" r="8.9" fill="none" stroke="#1a1a1a" stroke-width="1.4"/>
<line x1="526.00" y1="545.90" x2="504.00" y2="545.90" stroke="#777" stroke-width="0.7" />
<line x1="516.60" y1="522.00" x2="516.60" y2="565.00" stroke="#777" stroke-width="0.6" stroke-dasharray="8 2 2 2"/>
<polyline points="475.20,515.50 475.20,564.40 483.40,564.40 483.40,515.50" fill="none" stroke="#1a1a1a" stroke-width="1.4" stroke-linejoin="round"/>
<text x="404.00" y="555.50" font-family="Liberation Serif" font-size="14" font-weight="normal" fill="#222" text-anchor="middle" textLength="29.00" lengthAdjust="spacingAndGlyphs" transform="rotate(-4 404 552)">ø2.50</text>
<line x1="418.50" y1="550.00" x2="427.00" y2="548.30" stroke="#444" stroke-width="0.8" />
<polygon points="433.60,547.20 428.38,549.50 427.94,546.53" fill="#1a1a1a"/>
<circle cx="428.16" cy="548.02" r="1.50" fill="#1a1a1a"/>
<line x1="499.00" y1="566.00" x2="499.00" y2="588.20" stroke="#444" stroke-width="0.8" />
<line x1="534.20" y1="566.00" x2="534.20" y2="588.20" stroke="#444" stroke-width="0.8" />
<line x1="484.00" y1="587.60" x2="499.00" y2="587.60" stroke="#444" stroke-width="0.8" />
<line x1="534.20" y1="587.60" x2="548.70" y2="587.60" stroke="#444" stroke-width="0.8" />
<polygon points="499.00,587.60 493.00,589.10 493.00,586.10" fill="#1a1a1a"/>
<circle cx="493.00" cy="587.60" r="1.50" fill="#1a1a1a"/>
<polygon points="534.20,587.60 540.20,586.10 540.20,589.10" fill="#1a1a1a"/>
<circle cx="540.20" cy="587.60" r="1.50" fill="#1a1a1a"/>
<text x="471.20" y="592.60" font-family="Liberation Serif" font-size="14" font-weight="normal" fill="#222" text-anchor="middle" textLength="22.50" lengthAdjust="spacingAndGlyphs" >4.80</text>
<line x1="442.40" y1="566.00" x2="442.40" y2="608.50" stroke="#444" stroke-width="0.8" />
<line x1="516.50" y1="566.00" x2="516.50" y2="608.50" stroke="#444" stroke-width="0.8" />
<line x1="442.40" y1="607.90" x2="467.00" y2="607.90" stroke="#444" stroke-width="0.8" />
<line x1="492.00" y1="607.90" x2="516.50" y2="607.90" stroke="#444" stroke-width="0.8" />
<polygon points="442.40,607.90 448.40,606.40 448.40,609.40" fill="#1a1a1a"/>
<circle cx="448.40" cy="607.90" r="1.50" fill="#1a1a1a"/>
<polygon points="516.50,607.90 510.50,609.40 510.50,606.40" fill="#1a1a1a"/>
<circle cx="510.50" cy="607.90" r="1.50" fill="#1a1a1a"/>
<text x="479.80" y="612.90" font-family="Liberation Serif" font-size="14" font-weight="normal" fill="#222" text-anchor="middle" textLength="22.50" lengthAdjust="spacingAndGlyphs" >10.0</text>
<line x1="534.20" y1="526.90" x2="590.00" y2="526.90" stroke="#444" stroke-width="0.8" />
<line x1="516.90" y1="555.30" x2="571.00" y2="555.30" stroke="#444" stroke-width="0.8" />
<line x1="528.00" y1="565.30" x2="590.00" y2="565.30" stroke="#444" stroke-width="0.8" />
<line x1="587.10" y1="513.00" x2="587.10" y2="526.90" stroke="#444" stroke-width="0.8" />
<polygon points="587.10,526.90 585.60,520.90 588.60,520.90" fill="#1a1a1a"/>
<circle cx="587.10" cy="520.90" r="1.50" fill="#1a1a1a"/>
<line x1="587.10" y1="565.30" x2="587.10" y2="579.60" stroke="#444" stroke-width="0.8" />
<polygon points="587.10,565.30 588.60,571.30 585.60,571.30" fill="#1a1a1a"/>
<circle cx="587.10" cy="571.30" r="1.50" fill="#1a1a1a"/>
<text x="592.30" y="546.20" font-family="Liberation Serif" font-size="14" font-weight="normal" fill="#222" text-anchor="middle" textLength="23.00" lengthAdjust="spacingAndGlyphs" transform="rotate(-90 592.30 546.20)" >5.20</text>
<line x1="568.20" y1="539.80" x2="568.20" y2="555.30" stroke="#444" stroke-width="0.8" />
<polygon points="568.20,555.30 566.70,549.30 569.70,549.30" fill="#1a1a1a"/>
<circle cx="568.20" cy="549.30" r="1.50" fill="#1a1a1a"/>
<line x1="568.20" y1="565.30" x2="568.20" y2="580.60" stroke="#444" stroke-width="0.8" />
<polygon points="568.20,565.30 569.70,571.30 566.70,571.30" fill="#1a1a1a"/>
<circle cx="568.20" cy="571.30" r="1.50" fill="#1a1a1a"/>
<text x="573.40" y="591.50" font-family="Liberation Serif" font-size="14" font-weight="normal" fill="#222" text-anchor="middle" textLength="23.00" lengthAdjust="spacingAndGlyphs" transform="rotate(-90 573.40 591.50)" >1.40</text>
<path d="M746.6,418.0 L761.8,391.5 Q763.5,389.2 765.5,391.0 Q800,410 850.9,418.0" fill="none" stroke="#1a1a1a" stroke-width="1.4" />
<path d="M717.9,421.0 Q717.9,418.0 720.9,418.0 L869.9,418.0 Q872.9,418.0 872.9,421.0 L872.9,430.1 Q872.9,433.1 869.9,433.1 L720.9,433.1 Q717.9,433.1 717.9,430.1 Z" fill="none" stroke="#1a1a1a" stroke-width="1.4" />
<line x1="795.30" y1="386.90" x2="795.30" y2="463.00" stroke="#555" stroke-width="0.8" stroke-dasharray="10 3 2 3"/>
<polyline points="725.15,433.20 725.15,439.00 721.65,439.60 719.19,441.42 720.63,442.92 718.17,444.74 719.62,446.23 717.16,448.06 718.60,449.55 716.14,451.37 717.58,452.87 715.12,454.69 716.57,456.18 714.11,458.01 715.55,459.50 727.25,505.40 727.25,525.20" fill="none" stroke="#1a1a1a" stroke-width="1.4" stroke-linejoin="round"/>
<polyline points="729.05,433.20 722.05,462.30 731.35,498.40 731.35,433.20" fill="none" stroke="#1a1a1a" stroke-width="1.4" stroke-linejoin="round"/>
<polyline points="865.55,433.20 865.55,439.00 869.05,439.60 871.51,441.42 870.07,442.92 872.53,444.74 871.08,446.23 873.54,448.06 872.10,449.55 874.56,451.37 873.12,452.87 875.58,454.69 874.13,456.18 876.59,458.01 875.15,459.50 863.45,505.40 863.45,525.20" fill="none" stroke="#1a1a1a" stroke-width="1.4" stroke-linejoin="round"/>
<polyline points="861.65,433.20 868.65,462.30 859.35,498.40 859.35,433.20" fill="none" stroke="#1a1a1a" stroke-width="1.4" stroke-linejoin="round"/>
<polyline points="733.70,433.10 733.70,453.60 744.50,453.60 744.50,433.10" fill="none" stroke="#1a1a1a" stroke-width="1.4" stroke-linejoin="round"/>
<path d="M733.70,451.60 Q739.10,447.10 744.50,451.60" fill="none" stroke="#1a1a1a" stroke-width="1.3" />
<polyline points="771.60,433.10 771.60,448.20 782.30,448.20 782.30,433.10" fill="none" stroke="#1a1a1a" stroke-width="1.4" stroke-linejoin="round"/>
<path d="M771.60,446.20 Q776.95,441.70 782.30,446.20" fill="none" stroke="#1a1a1a" stroke-width="1.3" />
<polyline points="808.20,433.10 808.20,448.20 819.10,448.20 819.10,433.10" fill="none" stroke="#1a1a1a" stroke-width="1.4" stroke-linejoin="round"/>
<path d="M808.20,446.20 Q813.65,441.70 819.10,446.20" fill="none" stroke="#1a1a1a" stroke-width="1.3" />
<polyline points="846.00,433.10 846.00,453.60 857.00,453.60 857.00,433.10" fill="none" stroke="#1a1a1a" stroke-width="1.4" stroke-linejoin="round"/>
<path d="M846.00,451.60 Q851.50,447.10 857.00,451.60" fill="none" stroke="#1a1a1a" stroke-width="1.3" />
<circle cx="795.6" cy="443.4" r="7.4" fill="none" stroke="#1a1a1a" stroke-width="1.5"/>
<line x1="789.50" y1="446.50" x2="801.50" y2="440.30" stroke="#1a1a1a" stroke-width="1.3" />
<rect x="748.30" y="463.30" width="92.80" height="44.00" rx="2.5" fill="none" stroke="#555" stroke-width="1.0"/>
<line x1="795.30" y1="508.00" x2="795.30" y2="572.00" stroke="#555" stroke-width="0.8" stroke-dasharray="8 2 2 2"/>
<path d="M769.80,465.4 L768.20,474.6" fill="none" stroke="#111" stroke-width="1.1" />
<path d="M771.40,465.4 L769.80,474.6" fill="none" stroke="#111" stroke-width="1.1" />
<path d="M773.00,465.4 L771.40,474.6" fill="none" stroke="#111" stroke-width="1.1" />
<text x="776.50" y="474.60" font-family="Liberation Serif" font-size="12" font-weight="bold" fill="#222" text-anchor="middle" textLength="8.50" lengthAdjust="spacingAndGlyphs" font-style="italic" stroke="#111" stroke-width="0.5">B</text>
<text x="794.20" y="472.70" font-family="Liberation Sans" font-size="8.8" font-weight="bold" fill="#222" text-anchor="middle" textLength="13.50" lengthAdjust="spacingAndGlyphs" stroke="#111" stroke-width="0.3">BEJ</text>
<text x="814.75" y="472.70" font-family="Liberation Sans" font-size="8.8" font-weight="bold" fill="#222" text-anchor="middle" textLength="18.70" lengthAdjust="spacingAndGlyphs" stroke="#111" stroke-width="0.3">PS8C</text>
<text x="784.30" y="487.30" font-family="Liberation Sans" font-size="7.8" font-weight="bold" fill="#222" text-anchor="middle" textLength="44.60" lengthAdjust="spacingAndGlyphs" stroke="#111" stroke-width="0.3">16(4)A 250VAC</text>
<text x="819.50" y="487.30" font-family="Liberation Sans" font-size="7.8" font-weight="bold" fill="#222" text-anchor="middle" textLength="13.90" lengthAdjust="spacingAndGlyphs" stroke="#111" stroke-width="0.3">T105</text>
<path d="M770.2,499.4 L776.5,495.2 L781,495.2 L781,503.6 L776.5,503.6 Z" fill="#222" stroke="#1a1a1a" stroke-width="0" />
<path d="M773.5,499.4 L777,497.2 L779,497.2 L776,499.4 L779,501.6 L777,501.6 Z" fill="#fff" stroke="#1a1a1a" stroke-width="0" />
<text x="783.50" y="501.80" font-family="Liberation Sans" font-size="5" font-weight="bold" fill="#222" text-anchor="middle" >ᴴ</text>
<rect x="782.20" y="497.50" width="3.20" height="4.20" rx="0" fill="#444" stroke="#1a1a1a" stroke-width="0"/>
<path d="M789.9,501 L795.4,495.2 L801,501 L801,503.6 L789.9,503.6 Z" fill="none" stroke="#1a1a1a" stroke-width="1.1" />
<line x1="790.50" y1="502.20" x2="800.50" y2="502.20" stroke="#555" stroke-width="1.2" />
<ellipse cx="813.4" cy="499.4" rx="7.0" ry="4.2" fill="none" stroke="#111" stroke-width="1.2"/>
<rect x="809.00" y="498.20" width="9.00" height="2.40" rx="0" fill="#555" stroke="#1a1a1a" stroke-width="0"/>
<rect x="824.90" y="495.20" width="5.50" height="8.40" rx="0" fill="#333" stroke="#1a1a1a" stroke-width="0"/>
<path d="M825.5,496 L829.5,499.4 L825.5,502.8" fill="none" stroke="#fff" stroke-width="1.0" />
<polyline points="727.30,525.20 727.30,564.40 863.40,564.40 863.40,525.20" fill="none" stroke="#1a1a1a" stroke-width="1.5" stroke-linejoin="round"/>
<line x1="727.30" y1="525.20" x2="863.40" y2="525.20" stroke="#1a1a1a" stroke-width="1.5" />
<path d="M792.10,525.20 L792.10,559.40 L793.20,565.40 L797.30,565.40 L798.40,559.40 L798.40,525.20" fill="none" stroke="#1a1a1a" stroke-width="1.4" />
<rect x="792.10" y="525.20" width="6.30" height="2.40" rx="0" fill="#111" stroke="#1a1a1a" stroke-width="0"/>
<line x1="792.40" y1="559.40" x2="798.10" y2="559.40" stroke="#1a1a1a" stroke-width="1.0" />
<polyline points="793.50,559.80 795.25,563.60 797.00,559.80" fill="none" stroke="#555" stroke-width="0.7" stroke-linejoin="round"/>
<line x1="795.25" y1="528.20" x2="795.25" y2="558.40" stroke="#888" stroke-width="0.6" stroke-dasharray="6 2 1 2"/>
<path d="M844.40,525.20 L844.40,559.40 L845.50,565.40 L848.80,565.40 L849.90,559.40 L849.90,525.20" fill="none" stroke="#1a1a1a" stroke-width="1.4" />
<rect x="844.40" y="525.20" width="5.50" height="2.40" rx="0" fill="#111" stroke="#1a1a1a" stroke-width="0"/>
<line x1="844.70" y1="559.40" x2="849.60" y2="559.40" stroke="#1a1a1a" stroke-width="1.0" />
<polyline points="845.80,559.80 847.15,563.60 848.50,559.80" fill="none" stroke="#555" stroke-width="0.7" stroke-linejoin="round"/>
<line x1="694.20" y1="390.40" x2="763.00" y2="390.40" stroke="#444" stroke-width="0.8" />
<line x1="695.00" y1="375.60" x2="695.00" y2="390.40" stroke="#444" stroke-width="0.8" />
<polygon points="695.00,390.40 693.50,384.40 696.50,384.40" fill="#1a1a1a"/>
<circle cx="695.00" cy="384.40" r="1.50" fill="#1a1a1a"/>
<line x1="695.00" y1="417.80" x2="695.00" y2="432.60" stroke="#444" stroke-width="0.8" />
<polygon points="695.00,417.80 696.50,423.80 693.50,423.80" fill="#1a1a1a"/>
<circle cx="695.00" cy="423.80" r="1.50" fill="#1a1a1a"/>
<text x="700.20" y="404.40" font-family="Liberation Serif" font-size="14" font-weight="normal" fill="#222" text-anchor="middle" textLength="15.00" lengthAdjust="spacingAndGlyphs" transform="rotate(-90 700.20 404.40)" >3.8</text>
<line x1="672.90" y1="418.00" x2="717.50" y2="418.00" stroke="#444" stroke-width="0.8" />
<line x1="672.40" y1="525.20" x2="727.00" y2="525.20" stroke="#444" stroke-width="0.8" />
<line x1="674.30" y1="418.00" x2="674.30" y2="460.00" stroke="#444" stroke-width="0.8" />
<line x1="674.30" y1="485.00" x2="674.30" y2="525.20" stroke="#444" stroke-width="0.8" />
<polygon points="674.30,418.00 675.80,424.00 672.80,424.00" fill="#1a1a1a"/>
<circle cx="674.30" cy="424.00" r="1.50" fill="#1a1a1a"/>
<polygon points="674.30,525.20 672.80,519.20 675.80,519.20" fill="#1a1a1a"/>
<circle cx="674.30" cy="519.20" r="1.50" fill="#1a1a1a"/>
<text x="679.50" y="472.80" font-family="Liberation Serif" font-size="14" font-weight="normal" fill="#222" text-anchor="middle" textLength="21.00" lengthAdjust="spacingAndGlyphs" transform="rotate(-90 679.50 472.80)" >14.5</text>
<line x1="851.00" y1="418.00" x2="898.00" y2="418.00" stroke="#444" stroke-width="0.8" />
<line x1="873.00" y1="433.10" x2="898.00" y2="433.10" stroke="#444" stroke-width="0.8" />
<line x1="895.20" y1="403.00" x2="895.20" y2="418.00" stroke="#444" stroke-width="0.8" />
<polygon points="895.20,418.00 893.70,412.00 896.70,412.00" fill="#1a1a1a"/>
<circle cx="895.20" cy="412.00" r="1.50" fill="#1a1a1a"/>
<line x1="895.20" y1="433.10" x2="895.20" y2="447.40" stroke="#444" stroke-width="0.8" />
<polygon points="895.20,433.10 896.70,439.10 893.70,439.10" fill="#1a1a1a"/>
<circle cx="895.20" cy="439.10" r="1.50" fill="#1a1a1a"/>
<text x="900.40" y="392.30" font-family="Liberation Serif" font-size="14" font-weight="normal" fill="#222" text-anchor="middle" textLength="22.00" lengthAdjust="spacingAndGlyphs" transform="rotate(-90 900.40 392.30)" >2.00</text>
<line x1="697.30" y1="564.40" x2="727.00" y2="564.40" stroke="#444" stroke-width="0.8" />
<line x1="699.20" y1="525.20" x2="699.20" y2="535.00" stroke="#444" stroke-width="0.8" />
<line x1="699.20" y1="554.00" x2="699.20" y2="564.40" stroke="#444" stroke-width="0.8" />
<polygon points="699.20,525.20 700.70,531.20 697.70,531.20" fill="#1a1a1a"/>
<circle cx="699.20" cy="531.20" r="1.50" fill="#1a1a1a"/>
<polygon points="699.20,564.40 697.70,558.40 700.70,558.40" fill="#1a1a1a"/>
<circle cx="699.20" cy="558.40" r="1.50" fill="#1a1a1a"/>
<text x="704.40" y="544.80" font-family="Liberation Serif" font-size="14" font-weight="normal" fill="#222" text-anchor="middle" textLength="15.00" lengthAdjust="spacingAndGlyphs" transform="rotate(-90 704.40 544.80)" >5.3</text>
<line x1="727.30" y1="565.00" x2="727.30" y2="594.40" stroke="#444" stroke-width="0.8" />
<line x1="863.40" y1="565.00" x2="863.40" y2="594.40" stroke="#444" stroke-width="0.8" />
<line x1="727.30" y1="594.40" x2="783.00" y2="594.40" stroke="#444" stroke-width="0.8" />
<line x1="808.00" y1="594.40" x2="863.40" y2="594.40" stroke="#444" stroke-width="0.8" />
<polygon points="727.30,594.40 733.30,592.90 733.30,595.90" fill="#1a1a1a"/>
<circle cx="733.30" cy="594.40" r="1.50" fill="#1a1a1a"/>
<polygon points="863.40,594.40 857.40,595.90 857.40,592.90" fill="#1a1a1a"/>
<circle cx="857.40" cy="594.40" r="1.50" fill="#1a1a1a"/>
<text x="795.40" y="599.40" font-family="Liberation Serif" font-size="14" font-weight="normal" fill="#222" text-anchor="middle" textLength="22.00" lengthAdjust="spacingAndGlyphs" >18.5</text>
</svg></body></html>
